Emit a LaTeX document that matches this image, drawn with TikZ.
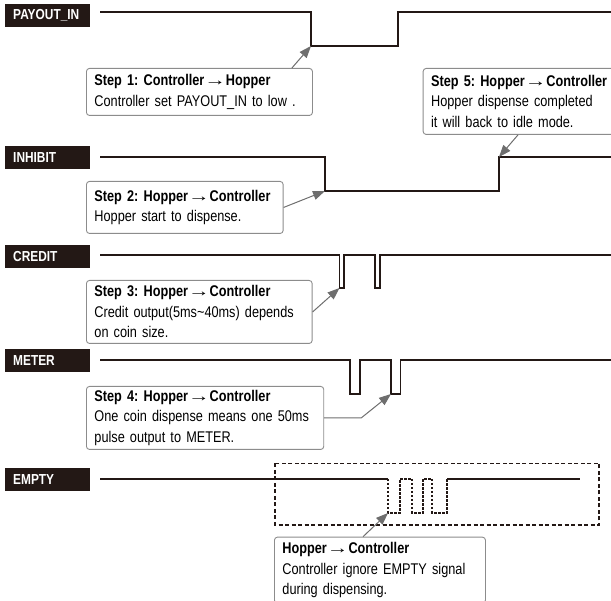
\documentclass[tikz,border=0pt]{standalone}
\usepackage{fontspec}
\setmainfont{Liberation Sans}[FakeStretch=0.82]
\usetikzlibrary{arrows.meta}

\definecolor{sigdark}{HTML}{231815}
\definecolor{notegray}{HTML}{8C8C8C}
\definecolor{arrowgray}{HTML}{6E6E6E}
\newcommand\rarr{{\mdseries\scalebox{1.7}[1]{→}}}
\newcommand\steptitle[1]{\mbox{\bfseries #1}}

\tikzset{
  sig/.style={fill=sigdark, text=white, anchor=west, text width=69pt, minimum height=23pt,
    inner xsep=8pt, inner ysep=0pt, font=\bfseries\fontsize{14.5}{14.5}\selectfont},
  note/.style={draw=notegray, line width=0.9pt, rounded corners=3pt, fill=white, align=left,
    anchor=north west, inner xsep=8pt, inner ysep=0pt, font=\fontsize{15.5}{20.5}\selectfont},
  wave/.style={draw=sigdark, line width=1.3pt},
  pointer/.style={draw=arrowgray, line width=1pt, -{Triangle[length=12pt,width=9pt]}}
}

\begin{document}
\frenchspacing
\begin{tikzpicture}[x=1pt, y=-1pt]
        \useasboundingbox (0,0) rectangle (611,601);
        %
        \node[sig] (pay_lbl) at (5,15.5) {PAYOUT\_IN} ; %
        \node[sig] (inh_lbl) at (5,157.5) {INHIBIT} ; %
        \node[sig] (cre_lbl) at (5,256.5) {CREDIT} ; %
        \node[sig] (met_lbl) at (5,360.5) {METER} ; %
        \node[sig] (emp_lbl) at (5,479.5) {EMPTY} ; %
        %
        \draw[wave] (100,12) -- (311,12) -- (311,46) -- (398,46) -- (398,12) -- (611,12) ; %
        \draw[wave] (100,157) -- (325,157) -- (325,191) -- (499,191) -- (499,157) -- (611,157) ; %
        \draw[wave] (100,255) -- (339.5,255) -- (339.5,288) -- (344,288) -- (344,255)
                    -- (375,255) -- (375,288) -- (380,288) -- (380,255) -- (611,255) ; %
        \draw[wave] (100,360) -- (350,360) -- (350,394) -- (360,394) -- (360,360)
                    -- (391,360) -- (391,394) -- (400.5,394) -- (400.5,360) -- (611,360) ; %
        \draw[wave] (100,479) -- (388,479) ; %
        \draw[wave, line width=1.2pt, dash pattern=on 2.5pt off 1.5pt] (388,479) -- (388,513) -- (400,513)
                    -- (400,479) -- (412,479) -- (412,513) -- (423,513) -- (423,479) -- (432,479)
                    -- (432,513) -- (447,513) -- (447,479) ; %
        \draw[wave] (447,479) -- (580,479) ; %
        \draw[wave, line width=1.8pt, dash pattern=on 4pt off 2.5pt] (275,463.5) rectangle (599,525) ; %
        %
        \coordinate (pay_fall) at (311,46) ; %
        \coordinate (inh_fall) at (325,191) ; %
        \coordinate (inh_rise) at (499,157) ; %
        \coordinate (cre_pulse) at (339.5,288) ; %
        \coordinate (met_pulse) at (391,394) ; %
        \coordinate (emp_fall) at (388,513) ; %
        %
        \node[note, text width=210pt, minimum height=47pt] (step_1) at (86,68)
          {\steptitle{Step 1: Controller\rarr Hopper}\\Controller set PAYOUT\_IN to low .} ; %
        \node[note, text width=180.7pt, minimum height=52pt] (step_2) at (86,181)
          {\steptitle{Step 2: Hopper\rarr Controller}\\Hopper start to dispense.} ; %
        \node[note, text width=209.7pt, minimum height=63pt] (step_3) at (86,280)
          {\steptitle{Step 3: Hopper\rarr Controller}\\Credit output(5ms\textasciitilde40ms) depends\\on coin size.} ; %
        \node[note, text width=221.3pt, minimum height=63pt] (step_4) at (86,386)
          {\steptitle{Step 4: Hopper\rarr Controller}\\One coin dispense means one 50ms\\pulse output to METER.} ; %
        \node[note, text width=190pt, minimum height=66pt] (step_5) at (422.7,68)
          {\steptitle{Step 5: Hopper\rarr Controller}\\Hopper dispense completed\\it will back to idle mode.} ; %
        \node[note, text width=195pt, minimum height=66pt] (empty_note) at (274,536.7)
          {\steptitle{Hopper\rarr Controller}\\Controller ignore EMPTY signal\\during dispensing.} ; %
        %
        \draw[pointer] ([xshift=-21pt]step_1.north east) -- (pay_fall) ; %
        \draw[pointer] (step_2.east) -- (inh_fall) ; %
        \draw[pointer] (step_3.east) -- (cre_pulse) ; %
        \draw[pointer] (step_4.east) -- ++(37,0) -- (met_pulse) ; %
        \draw[pointer] ([xshift=95.3pt]step_5.south west) -- (inh_rise) ; %
        \draw[pointer] ([xshift=89pt]empty_note.north west) -- (emp_fall) ; %
\end{tikzpicture}
\end{document}
